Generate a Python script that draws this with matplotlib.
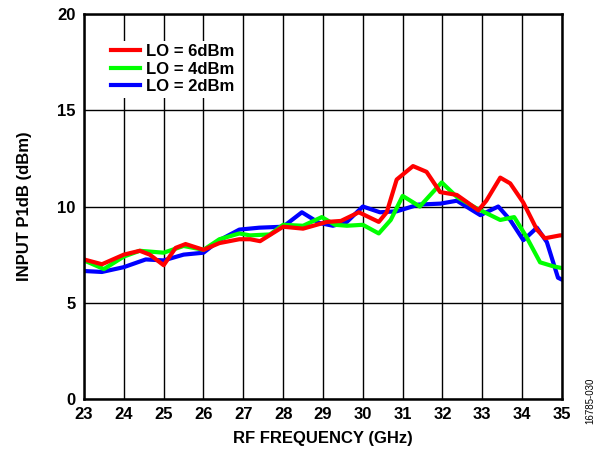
import matplotlib
matplotlib.use('Agg')
import matplotlib.pyplot as plt

plt.rcParams['font.family'] = ['Liberation Sans', 'DejaVu Sans']
plt.rcParams['font.weight'] = 'bold'

# dati (GHz, dBm)
freq_6 = [23.0, 23.45, 24.0, 24.4, 24.65, 25.0, 25.3, 25.55, 26.0, 26.4, 26.9, 27.17, 27.42,
          28.0, 28.5, 29.1, 29.45, 29.9, 30.4, 30.6, 30.85, 31.26, 31.6, 31.94, 32.36, 32.6,
          32.9, 33.1, 33.45, 33.7, 34.03, 34.37, 34.57, 34.95, 35.0]
p1db_6 = [7.25, 7.0, 7.5, 7.7, 7.5, 6.95, 7.85, 8.05, 7.75, 8.1, 8.3, 8.3, 8.2,
          8.95, 8.85, 9.2, 9.25, 9.7, 9.2, 9.7, 11.4, 12.1, 11.8, 10.75, 10.6, 10.25,
          9.8, 10.3, 11.5, 11.2, 10.2, 8.8, 8.35, 8.5, 8.5]

freq_4 = [23.0, 23.5, 24.0, 24.4, 25.0, 25.5, 26.0, 26.4, 26.9, 27.17, 27.67, 28.0, 28.5,
          28.97, 29.3, 29.6, 30.0, 30.4, 30.7, 31.0, 31.43, 31.98, 32.36, 32.86, 33.45,
          33.8, 34.1, 34.45, 34.77, 35.0]
p1db_4 = [7.2, 6.75, 7.4, 7.7, 7.6, 7.95, 7.75, 8.3, 8.6, 8.5, 8.55, 9.05, 9.0,
          9.45, 9.05, 9.0, 9.05, 8.6, 9.3, 10.55, 10.0, 11.25, 10.5, 9.9, 9.3,
          9.45, 8.45, 7.1, 6.9, 6.8]

freq_2 = [23.0, 23.45, 24.0, 24.55, 25.0, 25.5, 26.0, 26.4, 26.9, 27.4, 28.0, 28.47, 28.9,
          29.25, 29.6, 30.0, 30.43, 30.85, 31.4, 31.95, 32.36, 32.95, 33.4, 33.7, 34.03,
          34.37, 34.62, 34.9, 35.0]
p1db_2 = [6.65, 6.6, 6.85, 7.25, 7.2, 7.5, 7.6, 8.25, 8.8, 8.9, 8.95, 9.7, 9.15,
          9.0, 9.2, 10.0, 9.7, 9.75, 10.1, 10.15, 10.3, 9.55, 10.0, 9.3, 8.25,
          8.9, 8.15, 6.3, 6.2]

fig = plt.figure(figsize=(6.1, 4.5), dpi=100)
ax = fig.add_axes([0.1377, 0.1133, 0.7836, 0.8556])

ax.plot(freq_2, p1db_2, color='#0000ff', lw=3, solid_joinstyle='round', label='LO = 2dBm')
ax.plot(freq_4, p1db_4, color='#00ff00', lw=3, solid_joinstyle='round', label='LO = 4dBm')
ax.plot(freq_6, p1db_6, color='#ff0000', lw=3, solid_joinstyle='round', label='LO = 6dBm')

ax.set_xlim(23, 35)
ax.set_ylim(0, 20)
ax.set_xticks(range(23, 36))
ax.set_yticks([0, 5, 10, 15, 20])
ax.grid(True, color='black', lw=1)
ax.tick_params(length=0, labelsize=12, pad=6)
for s in ax.spines.values():
    s.set_linewidth(1.8)

ax.set_xlabel('RF FREQUENCY (GHz)', fontsize=12, fontweight='bold', labelpad=6)
ax.set_ylabel('INPUT P1dB (dBm)', fontsize=12, fontweight='bold', labelpad=18)

# legenda nell'ordine 6, 4, 2
h, l = ax.get_legend_handles_labels()
leg = ax.legend(h[::-1], l[::-1], loc='upper left', bbox_to_anchor=(0.05, 0.93),
                frameon=True, fontsize=12, handlelength=1.75, handletextpad=0.35,
                labelspacing=0.15, borderpad=0.2, borderaxespad=0)
leg.get_frame().set_edgecolor('none')
leg.get_frame().set_facecolor('white')
leg.get_frame().set_alpha(1)

fig.text(0.967, 0.11, '16785-030', rotation=90, fontsize=7, fontweight='normal',
         ha='center', va='center')

plt.savefig('out.png', dpi=100)
